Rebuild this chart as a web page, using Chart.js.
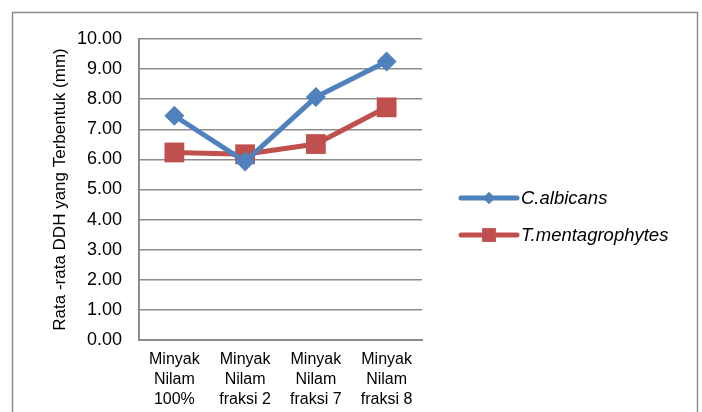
<!DOCTYPE html>
<html>
<head>
<meta charset="utf-8">
<script src="https://cdn.jsdelivr.net/npm/chart.js@4.4.1/dist/chart.umd.min.js"></script>
<style>
  html, body { margin: 0; padding: 0; background: #ffffff; }
  #wrap { width: 702px; height: 412px; position: relative; }
</style>
</head>
<body>
<div id="wrap"><canvas id="chart" width="702" height="412"></canvas></div>
<script>
// Perlakuan (minyak nilam dan fraksinya)
const categories = [
  ['Minyak', 'Nilam', '100%'],
  ['Minyak', 'Nilam', 'fraksi 2'],
  ['Minyak', 'Nilam', 'fraksi 7'],
  ['Minyak', 'Nilam', 'fraksi 8']
];
// Rata-rata diameter daerah hambat (mm)
const albicansValues = [7.45, 5.93, 8.07, 9.25];
const mentagrophytesValues = [6.23, 6.17, 6.51, 7.73];
const seriesNames = ['C.albicans', 'T.mentagrophytes'];
const yTicks = [0, 1, 2, 3, 4, 5, 6, 7, 8, 9, 10];

const BLUE = '#4F81BD';
const RED = '#C0504D';
const FONT = "'Liberation Sans', Arial, sans-serif";

// Outer frame and white background
const framePlugin = {
  id: 'frame',
  beforeDraw(chart) {
    const ctx = chart.ctx;
    ctx.save();
    ctx.fillStyle = '#ffffff';
    ctx.fillRect(0, 0, chart.width, chart.height);
    ctx.strokeStyle = '#8c8c8c';
    ctx.lineWidth = 1.5;
    ctx.strokeRect(12.5, 12.5, 685, 420);
    ctx.restore();
  }
};

// Legend on the right: line sample with marker, italic series name
const lineLegend = {
  id: 'lineLegend',
  afterDraw(chart) {
    const ctx = chart.ctx;
    const x0 = 461, x1 = 517, rows = [198, 235];
    chart.data.datasets.forEach((ds, i) => {
      const y = rows[i];
      ctx.save();
      ctx.strokeStyle = ds.borderColor;
      ctx.lineWidth = 5;
      ctx.lineCap = 'round';
      ctx.beginPath();
      ctx.moveTo(x0, y);
      ctx.lineTo(x1, y);
      ctx.stroke();
      ctx.fillStyle = ds.borderColor;
      Chart.helpers.drawPoint(ctx, {
        pointStyle: ds.pointStyle,
        radius: ds.pointStyle === 'rect' ? 9.5 : 6,
        borderWidth: 0
      }, (x0 + x1) / 2, y);
      ctx.fill();
      ctx.fillStyle = '#000000';
      ctx.font = 'italic 18.5px ' + FONT;
      ctx.textBaseline = 'middle';
      ctx.textAlign = 'left';
      ctx.fillText(ds.label, x1 + 4, y + 1);
      ctx.restore();
    });
  }
};

new Chart(document.getElementById('chart'), {
  type: 'line',
  data: {
    labels: categories,
    datasets: [
      {
        label: seriesNames[0],
        data: albicansValues,
        borderColor: BLUE,
        backgroundColor: BLUE,
        borderWidth: 5,
        pointStyle: 'rectRot',
        pointRadius: 10,
        pointBorderWidth: 0,
        pointBackgroundColor: BLUE,
        tension: 0
      },
      {
        label: seriesNames[1],
        data: mentagrophytesValues,
        borderColor: RED,
        backgroundColor: RED,
        borderWidth: 5,
        pointStyle: 'rect',
        pointRadius: 14,
        pointBorderWidth: 0,
        pointBackgroundColor: RED,
        tension: 0
      }
    ]
  },
  options: {
    responsive: false,
    animation: false,
    layout: { padding: { left: 50, right: 280, top: 39, bottom: 0 } },
    plugins: {
      legend: { display: false },
      tooltip: { enabled: false }
    },
    scales: {
      x: {
        offset: true,
        grid: { display: false, drawTicks: false },
        border: { color: '#8c8c8c', width: 2 },
        ticks: {
          color: '#000000',
          padding: 10,
          maxRotation: 0,
          autoSkip: false,
          font: { family: FONT, size: 16, lineHeight: 1.23 }
        },
        afterFit(scale) { scale.height = 72; }
      },
      y: {
        min: 0,
        max: 10,
        afterBuildTicks(scale) { scale.ticks = yTicks.map(v => ({ value: v })); },
        grid: { color: '#8c8c8c', lineWidth: 1.5, drawTicks: false },
        border: { color: '#8c8c8c', width: 2 },
        ticks: {
          color: '#000000',
          padding: 17,
          font: { family: FONT, size: 18 },
          callback: v => Number(v).toFixed(2)
        },
        title: {
          display: true,
          text: 'Rata -rata DDH yang Terbentuk (mm)',
          color: '#000000',
          padding: { top: 0, bottom: 0 },
          font: { family: FONT, size: 17 }
        },
        afterFit(scale) { scale.width = 89; }
      }
    }
  },
  plugins: [framePlugin, lineLegend]
});
</script>
</body>
</html>
